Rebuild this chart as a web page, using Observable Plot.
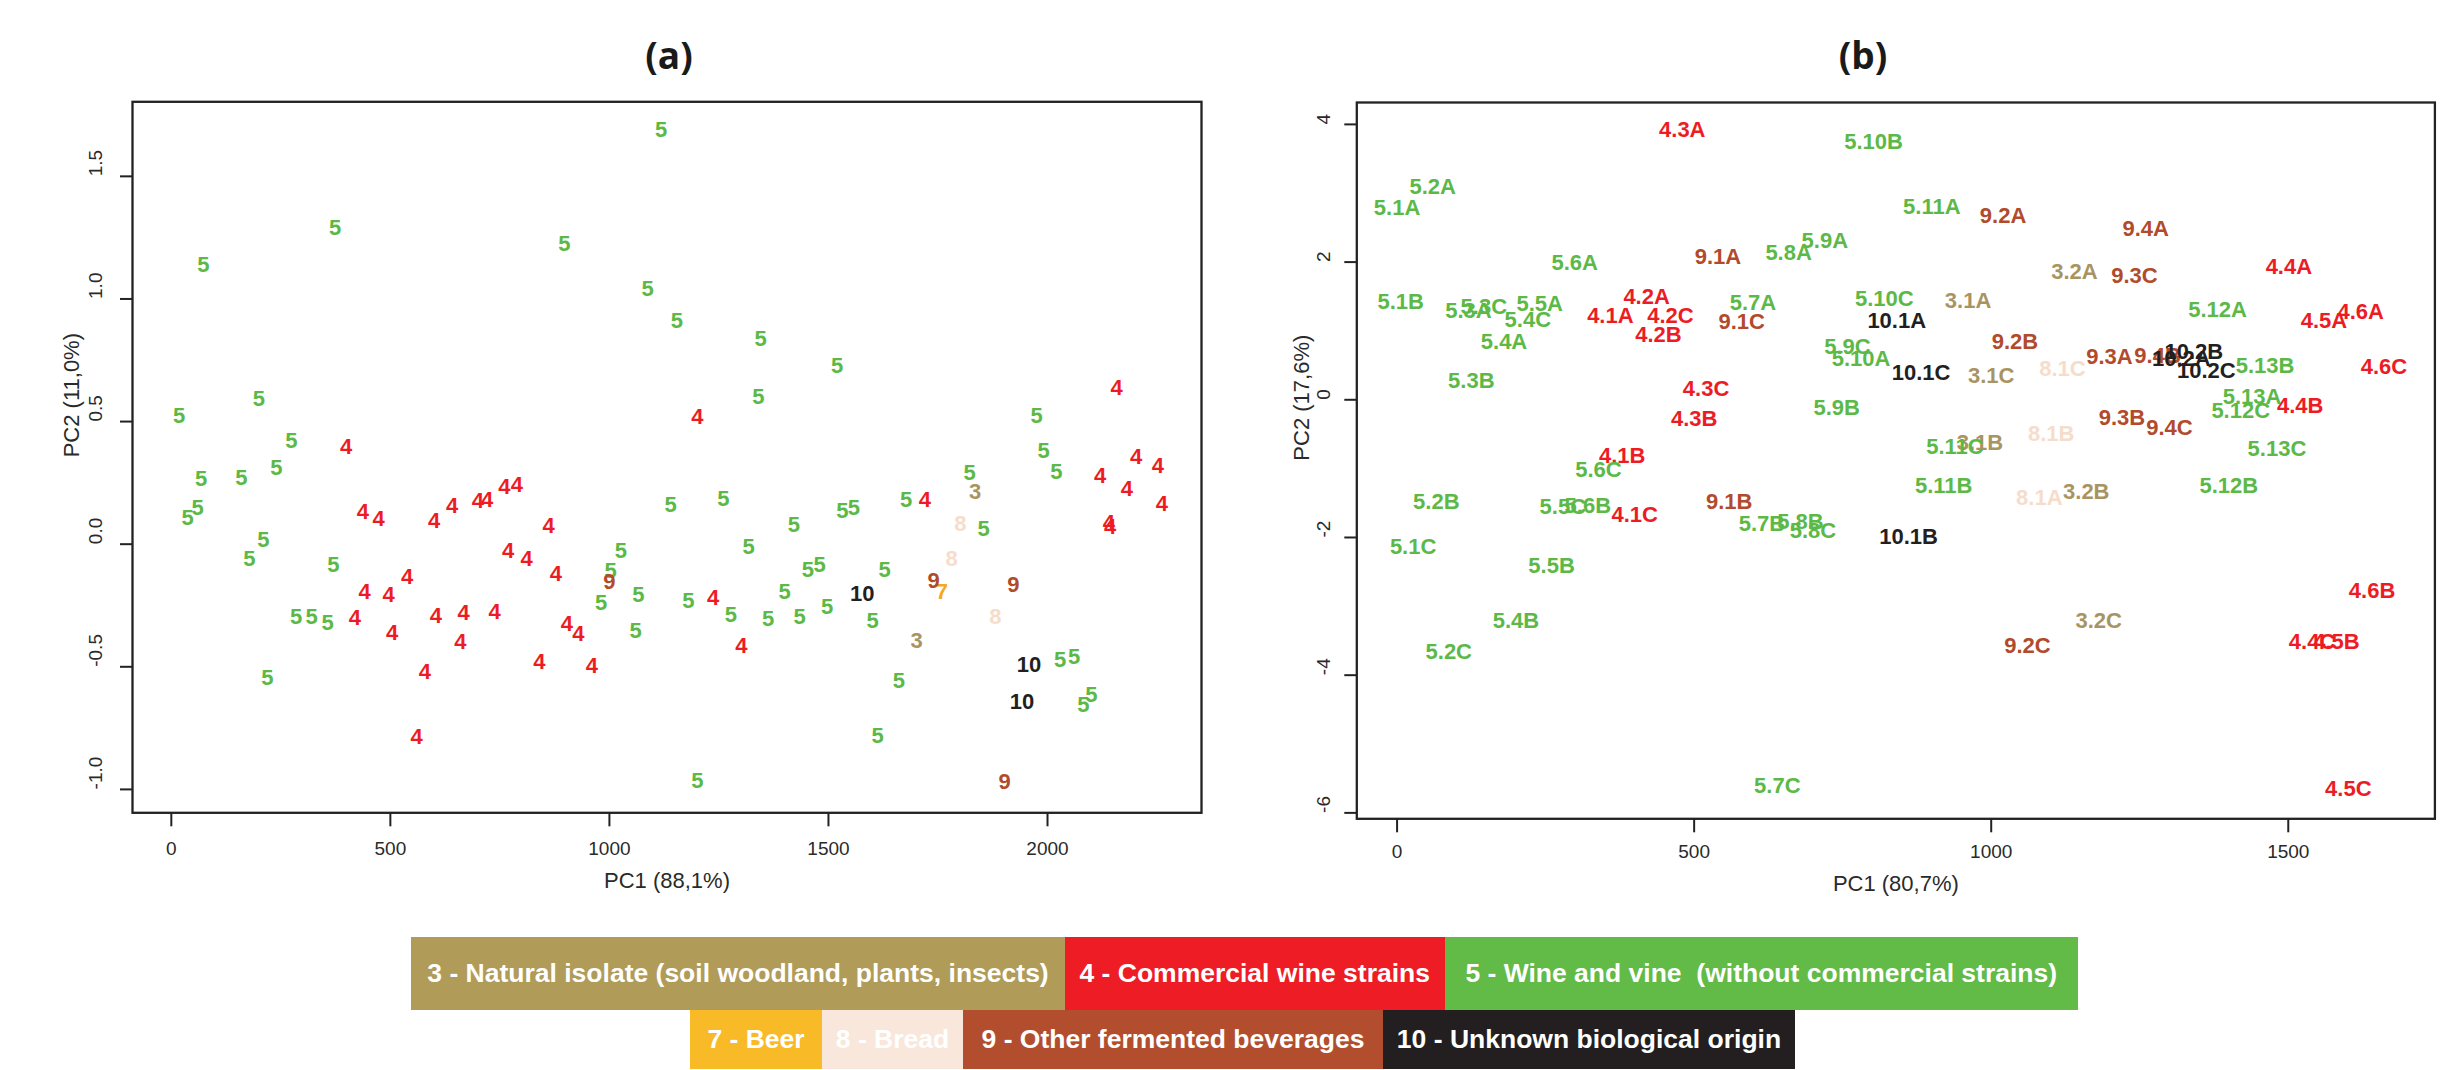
<!DOCTYPE html>
<html><head><meta charset="utf-8">
<script src="https://cdn.jsdelivr.net/npm/d3@7"></script>
<script src="https://cdn.jsdelivr.net/npm/@observablehq/plot@0.6"></script>
<style>
html,body{margin:0;padding:0;background:#fff;}
#page{position:relative;width:2460px;height:1070px;overflow:hidden;font-family:"Liberation Sans",Arial,sans-serif;}
.ptitle{position:absolute;top:36px;width:200px;text-align:center;font-family:"Open Sans",sans-serif;font-weight:700;font-size:37px;line-height:37px;color:#1a1a1a;}
#pa{position:absolute;left:0;top:90px;}
#pb{position:absolute;left:1240px;top:90px;}
.lrow{position:absolute;display:flex;}
.lbox{display:flex;align-items:center;justify-content:center;color:#fff;font-weight:700;font-size:26.5px;white-space:pre;font-family:"Liberation Sans",Arial,sans-serif;}
</style></head><body>
<div id="page">
 <div class="ptitle" style="left:569px">(a)</div>
 <div class="ptitle" style="left:1763px">(b)</div>
 <div id="pa"></div><div id="pb"></div>
 <div id="legend"></div>
</div>
<script>
// ---------- categories ----------
const groupCodes = ["3","4","5","7","8","9","10"];
const groupNames = [
  "3 - Natural isolate (soil woodland, plants, insects)",
  "4 - Commercial wine strains",
  "5 - Wine and vine  (without commercial strains)",
  "7 - Beer",
  "8 - Bread",
  "9 - Other fermented beverages",
  "10 - Unknown biological origin"
];
const textColors   = ["#a89462","#ed1c24","#5cb947","#f4a81f","#f6ddcb","#b24a2c","#231f20"];
const legendColors = ["#b09b59","#ee1c24","#62ba47","#f8ba26","#f8e7da","#b24e2e","#231f20"];

// ---------- panel (a): one value list per group ----------
const pc1A = [
  [1835,1701],
  [399,437,473,600,641,700,721,760,789,861,769,811,878,538,441,496,419,504,604,667,
   738,660,579,903,929,840,960,560,1201,2158,2202,2252,2120,2181,2261,2140,2143,1720,1237,1301],
  [1118,374,73,897,1087,1154,200,18,274,240,68,160,60,37,210,178,370,1026,1003,981,
   1066,1060,1140,285,320,357,219,1345,1520,1340,1975,1991,2020,1822,1677,1854,1260,1532,1558,1421,
   1318,1453,1480,1628,1400,1180,1277,1362,1434,1497,1601,1661,2029,2061,2082,2100,1612,1201],
  [1759],
  [1801,1781,1881],
  [1000,1740,1922,1902],
  [1577,1958,1942]
];
const pc2A = [
  [0.212,-0.393],
  [0.396,0.131,0.101,0.094,0.155,0.178,0.181,0.232,0.243,0.073,-0.029,-0.06,-0.121,-0.134,-0.196,-0.209,-0.300,-0.361,-0.294,-0.28,
   -0.277,-0.4,-0.522,-0.325,-0.368,-0.481,-0.495,-0.787,0.518,0.636,0.355,0.318,0.277,0.226,0.165,0.085,0.07,0.182,-0.22,-0.416],
  [1.69,1.29,1.14,1.225,1.04,0.912,0.593,0.521,0.42,0.312,0.267,0.271,0.148,0.108,0.019,-0.062,-0.083,-0.029,-0.11,-0.239,
   -0.205,-0.355,0.162,-0.298,-0.298,-0.322,-0.545,0.838,0.725,0.6,0.521,0.382,0.296,0.291,0.182,0.063,0.185,0.135,0.147,0.079,
   -0.012,-0.104,-0.084,-0.107,-0.193,-0.232,-0.287,-0.304,-0.298,-0.257,-0.315,-0.559,-0.474,-0.461,-0.655,-0.614,-0.784,-0.967],
  [-0.196],
  [0.083,-0.062,-0.298],
  [-0.155,-0.148,-0.166,-0.971],
  [-0.202,-0.491,-0.644]
];
const xTicksA = [0,500,1000,1500,2000];
const yTicksA = [-1,-0.5,0,0.5,1,1.5];

// ---------- panel (b) ----------
const labelsB = ["3.1A","3.1B","3.1C","3.2A","3.2B","3.2C",
  "4.1A","4.1B","4.1C","4.2A","4.2B","4.2C","4.3A","4.3B","4.3C","4.4A","4.4B","4.4C","4.5A","4.5B","4.5C","4.6A","4.6B","4.6C",
  "5.1A","5.1B","5.1C","5.2A","5.2B","5.2C","5.3A","5.3B","5.3C","5.4A","5.4B","5.4C","5.5A","5.5B","5.5C","5.6A","5.6B","5.6C",
  "5.7A","5.7B","5.7C","5.8A","5.8B","5.8C","5.9A","5.9B","5.9C","5.10A","5.10B","5.10C","5.11A","5.11B","5.11C",
  "5.12A","5.12B","5.12C","5.13A","5.13B","5.13C",
  "8.1A","8.1B","8.1C",
  "9.1A","9.1B","9.1C","9.2A","9.2B","9.2C","9.3A","9.3B","9.3C","9.4A","9.4B","9.4C",
  "10.1A","10.1B","10.1C","10.2A","10.2B","10.2C"];
const pc1B = [961,981,1000,1140,1160,1181,
  359,379,400,420,440,460,480,500,520,1501,1520,1540,1560,1581,1601,1622,1641,1661,
  0,6,27,60,66,87,120,125,146,180,200,220,240,260,279,299,321,339,
  599,614,640,659,679,700,720,740,758,781,802,820,900,920,939,
  1381,1400,1420,1439,1461,1481,
  1081,1101,1120,
  540,559,580,1020,1040,1061,1199,1220,1241,1260,1280,1300,
  841,861,882,1320,1341,1362];
const pc2B = [1.442,-0.63,0.353,1.863,-1.342,-3.206,
  1.224,-0.809,-1.666,1.5,0.948,1.224,3.921,-0.276,0.159,1.926,-0.083,-3.52,1.152,-3.52,-5.65,1.273,-2.77,0.474,
  2.783,1.428,-2.141,3.088,-1.477,-3.666,1.297,0.27,1.345,0.837,-3.206,1.162,1.394,-2.407,-1.56,1.99,-1.545,-1.012,
  1.404,-1.801,-5.602,2.129,-1.778,-1.898,2.314,-0.121,0.764,0.595,3.742,1.467,2.808,-1.245,-0.688,
  1.311,-1.245,-0.155,0.038,0.498,-0.712,
  -1.424,-0.494,0.45,
  2.071,-1.477,1.128,2.677,0.837,-3.569,0.619,-0.267,1.795,2.483,0.643,-0.407,
  1.152,-1.986,0.387,0.595,0.69,0.426];
const xTicksB = [0,500,1000,1500];
const yTicksB = [-6,-4,-2,0,2,4];

// ---------- build tables ----------
const dataA = groupCodes.flatMap((g, i) => pc1A[i].map((v, j) => ({group: g, label: g, pc1: v, pc2: pc2A[i][j]})));
const dataB = labelsB.map((l, i) => ({group: l.split(".")[0], label: l, pc1: pc1B[i], pc2: pc2B[i]}));

const axisFont = '"Liberation Sans", Arial, sans-serif';
function panel(data, opts) {
  return Plot.plot({
    width: opts.width, height: 800,
    marginLeft: opts.ml, marginRight: opts.mr, marginTop: opts.mt, marginBottom: opts.mb,
    x: {domain: opts.xd},
    y: {domain: opts.yd},
    color: {domain: groupCodes, range: textColors},
    style: {fontFamily: axisFont, background: "white", overflow: "visible"},
    marks: [
      Plot.axisX({ticks: opts.xt, tickSize: 14, strokeWidth: 2, stroke: "#222", tickFormat: () => "", label: null}),
      Plot.axisY({ticks: opts.yt, tickSize: 12, strokeWidth: 2, stroke: "#222", tickFormat: () => "", label: null}),
      Plot.text(opts.xt, {x: d => d, frameAnchor: "bottom", dy: opts.xtdy, lineAnchor: "middle", text: d => String(d), fontSize: 19, fill: "#2a2a2a"}),
      Plot.text(opts.yt, {y: d => d, frameAnchor: "left", dx: opts.ytdx, rotate: -90, lineAnchor: "middle", text: opts.yfmt, fontSize: 19, fill: "#2a2a2a"}),
      Plot.text([opts.xlabel], {frameAnchor: "bottom", dy: opts.xldy, lineAnchor: "middle", text: d => d, fontSize: 22, fill: "#2a2a2a"}),
      Plot.text([opts.ylabel], {frameAnchor: "left", dx: opts.yldx, rotate: -90, lineAnchor: "middle", text: d => d, fontSize: 22, fill: "#2a2a2a"}),
      Plot.text(data, {x: "pc1", y: "pc2", text: "label", fill: "group", fontWeight: "bold", fontSize: 22, fontFamily: axisFont}),
      Plot.frame({stroke: "#222", strokeWidth: 2.3})
    ]
  });
}

document.getElementById("pa").appendChild(panel(dataA, {
  width: 1240, ml: 132, mr: 39, mt: 11.3, mb: 77.7,
  xd: [-88.6, 2351.5], yd: [-1.0954, 1.804], xt: xTicksA, yt: yTicksA,
  yfmt: d => d.toFixed(1), xtdy: 36, xldy: 68, ytdx: -36.5, yldx: -61,
  xlabel: "PC1 (88,1%)", ylabel: "PC2 (11,0%)"
}));
document.getElementById("pb").appendChild(panel(dataB, {
  width: 1220, ml: 116.3, mr: 25.6, mt: 12, mb: 71.7,
  xd: [-67.8, 1746.8], yd: [-6.086, 4.318], xt: xTicksB, yt: yTicksB,
  yfmt: d => String(d), xtdy: 33.4, xldy: 65, ytdx: -33, yldx: -55,
  xlabel: "PC1 (80,7%)", ylabel: "PC2 (17,6%)"
}));

// ---------- legend (HTML, below the charts) ----------
const legendLayout = [
  {left: 411, top: 937, height: 73, items: [0, 1, 2], widths: [654, 379.5, 633.5]},
  {left: 690, top: 1010, height: 59, items: [3, 4, 5, 6], widths: [132, 141, 420, 412]}
];
const legend = document.getElementById("legend");
legendLayout.forEach(row => {
  const r = document.createElement("div");
  r.className = "lrow";
  r.style.left = row.left + "px"; r.style.top = row.top + "px"; r.style.height = row.height + "px";
  row.items.forEach((k, j) => {
    const b = document.createElement("div");
    b.className = "lbox";
    b.style.width = row.widths[j] + "px";
    b.style.height = row.height + "px";
    b.style.background = legendColors[k];
    b.textContent = groupNames[k];
    r.appendChild(b);
  });
  legend.appendChild(r);
});
</script>
</body></html>
